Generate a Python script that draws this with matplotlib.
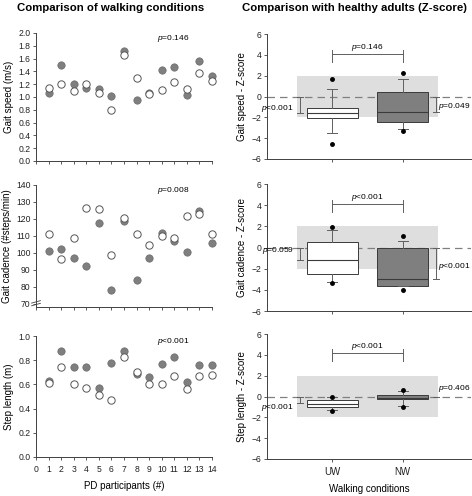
# -*- coding: utf-8 -*-

"""
Walking conditions (UW vs NW) in PD participants, and Z-scores vs healthy adults
"""

import matplotlib

matplotlib.use("Agg")

import matplotlib.pyplot as plt

plt.rcParams["font.family"] = ["Liberation Sans", "DejaVu Sans"]
plt.rcParams["mathtext.fontset"] = "custom"
plt.rcParams["mathtext.rm"] = "Liberation Sans"
plt.rcParams["mathtext.it"] = "Liberation Sans:italic"

# --- data -----------------------------------------------------------------
participants = list(range(1, 15))

speed_uw = [1.14, 1.20, 1.09, 1.20, 1.07, 0.79, 1.65, 1.29, 1.05, 1.11, 1.23, 1.13, 1.37, 1.25]
speed_nw = [1.07, 1.50, 1.20, 1.14, 1.13, 1.02, 1.72, 0.96, 1.06, 1.42, 1.47, 1.03, 1.56, 1.33]

cadence_uw = [111.0, 96.5, 108.6, 126.7, 125.9, 98.8, 120.4, 111.0, 104.7, 109.8, 109.0, 121.6, 122.7, 111.0]
cadence_nw = [101.2, 102.5, 96.7, 92.0, 117.8, 77.8, 118.8, 83.7, 96.7, 111.8, 106.9, 100.6, 124.5, 106.0]

step_uw = [0.61, 0.74, 0.60, 0.57, 0.51, 0.47, 0.83, 0.70, 0.60, 0.60, 0.67, 0.56, 0.67, 0.68]
step_nw = [0.63, 0.88, 0.74, 0.74, 0.57, 0.78, 0.88, 0.69, 0.66, 0.77, 0.83, 0.62, 0.76, 0.76]

p_within = ["=0.146", "=0.008", "<0.001"]

conditions = ["UW", "NW"]

# z-score box stats per measure: (q1, median, q3, whisker low, whisker high, fliers)
z_speed = [(-2.03, -1.55, -1.07, -3.47, 0.75, [1.68, -4.53]),
           (-2.42, -1.45, 0.40, -3.09, 1.71, [2.26, -3.34])]
z_cadence = [(-2.55, -1.16, 0.55, -3.25, 1.66, [1.92, -3.34]),
             (-3.63, -2.99, -0.02, -3.63, 0.65, [1.12, -4.00])]
z_step = [(-1.00, -0.72, -0.38, -1.32, -0.06, [-0.06, -1.38]),
          (-0.28, -0.10, 0.16, -0.94, 0.57, [0.63, -1.04])]

# comparison UW vs NW (bracket height, p text)
cmp_y = [4.05, 4.07, 4.14]
cmp_p = ["=0.146", "<0.001", "<0.001"]

# vs healthy: (bracket end, label y, p text) for UW (left) and NW (right)
healthy_uw = [(-1.55, -1.2, "<0.001"), (-1.16, -0.3, "=0.059"), (-0.6, -1.05, "<0.001")]
healthy_nw = [(-1.50, -1.0, "=0.049"), (-2.95, -1.8, "<0.001"), (-0.05, 0.75, "=0.406")]

# --- style ------------------------------------------------------------------
W, H = 472, 496
AX_COL = "#404040"
FILL_GRAY = "#7f7f7f"
BAND_GRAY = "#dedede"
TICK_FS = 6.2
P_FS = 6.0
LABEL_FS = 7.0


def pt(s):
    """p-value string with italic p"""
    return r"$\mathit{p}$" + s


def px_axes(fig, x0, y0, x1, y1):
    """Create axes from pixel corners (top-left origin)"""
    return fig.add_axes([x0 / W, 1 - y1 / H, (x1 - x0) / W, (y1 - y0) / H])


def style_axes(ax):
    for side in ("top", "right"):
        ax.spines[side].set_visible(False)
    for side in ("left", "bottom"):
        ax.spines[side].set_color(AX_COL)
        ax.spines[side].set_linewidth(0.7)
    ax.tick_params(direction="out", length=2.5, width=0.6, color=AX_COL,
                   labelsize=TICK_FS, pad=1.5, labelcolor="#222222")


def draw_scatter(ax, uw, nw, p, ylim, yticks, fmt, ylabel, last=False):
    ax.scatter(participants, nw, s=28, color=FILL_GRAY, edgecolor="#6a6a6a",
               linewidth=0.5, zorder=3, clip_on=False)
    ax.scatter(participants, uw, s=28, color="white", edgecolor="#555555",
               linewidth=0.7, zorder=4, clip_on=False)
    ax.set_xlim(0, 14)
    ax.set_ylim(*ylim)
    ax.set_yticks(yticks)
    ax.set_yticklabels([fmt.format(v) for v in yticks])
    ax.set_xticks(range(0, 15))
    if last:
        ax.set_xticklabels([str(i) for i in range(0, 15)])
        ax.set_xlabel("PD participants (#)", fontsize=LABEL_FS, labelpad=5)
    else:
        ax.set_xticklabels([])
    ax.set_ylabel(ylabel, fontsize=LABEL_FS, labelpad=3)
    ax.text(9.6, ylim[1], pt(p), fontsize=P_FS, va="top", ha="left")
    style_axes(ax)
    if last:
        ax.tick_params(axis="x", pad=3)


def bracket_v(ax, x, y0, y1, cw=0.045):
    ax.plot([x, x], [y0, y1], color="#606060", lw=0.7)
    for y in (y0, y1):
        ax.plot([x - cw, x + cw], [y, y], color="#606060", lw=0.7)


def draw_box(ax, stats, ymid, cmp_txt, left, right, ylabel, last=False):
    ax.fill_between([0.5, 2.5], -2, 2, color=BAND_GRAY, lw=0, zorder=0)
    ax.axhline(0, color="#808080", lw=0.9, ls=(0, (6, 4)), zorder=1)

    bx = []
    for (q1, med, q3, lo, hi, fl), lab in zip(stats, conditions):
        bx.append(dict(q1=q1, med=med, q3=q3, whislo=lo, whishi=hi,
                       fliers=fl, label=lab))
    arts = ax.bxp(bx, positions=[1, 2], widths=0.72, capwidths=0.14,
                  patch_artist=True, manage_ticks=False,
                  boxprops=dict(linewidth=0.7, edgecolor="#3a3a3a"),
                  whiskerprops=dict(color="#606060", linewidth=0.7),
                  capprops=dict(color="#606060", linewidth=0.7),
                  medianprops=dict(color="#3a3a3a", linewidth=0.8),
                  flierprops=dict(marker="o", markersize=2.5,
                                  markerfacecolor="black",
                                  markeredgecolor="black"))
    for patch, fc in zip(arts["boxes"], ["white", FILL_GRAY]):
        patch.set_facecolor(fc)
        patch.set_zorder(2)

    # UW vs NW comparison bracket
    ax.plot([1, 2], [ymid, ymid], color="#606060", lw=0.7)
    for x in (1, 2):
        ax.plot([x, x], [ymid + 0.4, ymid - 0.7], color="#606060", lw=0.7)
    ax.text(1.5, ymid + 0.15, pt(cmp_txt), fontsize=P_FS, ha="center",
            va="bottom")

    # vs healthy adults brackets
    end, ty, txt = left
    bracket_v(ax, 0.54, 0, end)
    ax.text(0.45, ty, pt(txt), fontsize=P_FS, ha="right", va="center")
    end, ty, txt = right
    bracket_v(ax, 2.47, 0, end)
    ax.text(2.50, ty, pt(txt), fontsize=P_FS, ha="left", va="center")

    ax.set_xlim(0.07, 2.97)
    ax.set_ylim(-6, 6)
    ax.set_yticks(range(-6, 7, 2))
    ax.set_xticks([1, 2])
    if last:
        ax.set_xticklabels(conditions)
        ax.set_xlabel("Walking conditions", fontsize=LABEL_FS, labelpad=5)
    else:
        ax.set_xticklabels([])
    ax.set_ylabel(ylabel, fontsize=LABEL_FS, labelpad=3)
    style_axes(ax)
    if last:
        ax.tick_params(axis="x", labelsize=LABEL_FS, pad=3)


fig = plt.figure(figsize=(W / 100, H / 100), dpi=100)

rows_l = [(33, 161), (185, 307), (336, 457)]
rows_r = [(34, 159), (184, 311), (334, 459)]

ax = px_axes(fig, 36, rows_l[0][0], 212, rows_l[0][1])
draw_scatter(ax, speed_uw, speed_nw, p_within[0], (0, 2.0),
             [0, 0.2, 0.4, 0.6, 0.8, 1.0, 1.2, 1.4, 1.6, 1.8, 2.0],
             "{:.1f}", "Gait speed (m/s)")

ax = px_axes(fig, 36, rows_l[1][0], 212, rows_l[1][1])
draw_scatter(ax, cadence_uw, cadence_nw, p_within[1], (68, 140),
             list(range(70, 141, 10)), "{:d}", "Gait cadence (#steps/min)")
# axis break mark
for dy in (0.0, 0.022):
    ax.plot([-0.025, 0.025], [0.01 + dy, 0.03 + dy], transform=ax.transAxes,
            color=AX_COL, lw=0.6, clip_on=False)

ax = px_axes(fig, 36, rows_l[2][0], 212, rows_l[2][1])
draw_scatter(ax, step_uw, step_nw, p_within[2], (0, 1.0),
             [0, 0.2, 0.4, 0.6, 0.8, 1.0], "{:.1f}", "Step length (m)", last=True)

ax = px_axes(fig, 267, rows_r[0][0], 471, rows_r[0][1])
draw_box(ax, z_speed, cmp_y[0], cmp_p[0], healthy_uw[0], healthy_nw[0],
         "Gait speed - Z-score")
ax = px_axes(fig, 267, rows_r[1][0], 471, rows_r[1][1])
draw_box(ax, z_cadence, cmp_y[1], cmp_p[1], healthy_uw[1], healthy_nw[1],
         "Gait cadence - Z-score")
ax = px_axes(fig, 267, rows_r[2][0], 471, rows_r[2][1])
draw_box(ax, z_step, cmp_y[2], cmp_p[2], healthy_uw[2], healthy_nw[2],
         "Step length - Z-score", last=True)

fig.text(111 / W, 1 - 8 / H, "Comparison of walking conditions",
         fontsize=8.2, fontweight="bold", ha="center", va="center")
fig.text(355 / W, 1 - 8 / H, "Comparison with healthy adults (Z-score)",
         fontsize=8.2, fontweight="bold", ha="center", va="center")

fig.savefig("out.png", dpi=100)
